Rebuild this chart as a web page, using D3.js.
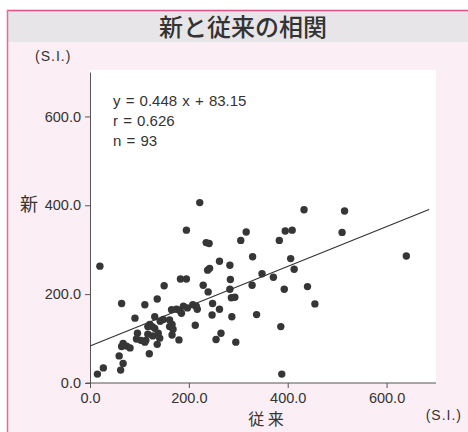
<!DOCTYPE html>
<html>
<head>
<meta charset="utf-8">
<script src="https://cdn.jsdelivr.net/npm/d3@7/dist/d3.min.js"></script>
<style>
  body { margin: 0; background: #fff; }
  text { font-family: "Liberation Sans", Arial, sans-serif; fill: #333; }
  .jp { font-family: "Noto Sans CJK JP", sans-serif; }
</style>
</head>
<body>
<div id="chart"></div>
<script>
// 従来 (x) and 新 (y), one entry per sample, n = 93
const conventional = [
  222, 195, 235, 241, 316, 305, 20, 329, 262, 283,
  238, 242, 183, 195, 348, 371, 284, 150, 229, 328,
  283, 239, 136, 286, 293, 64, 111, 248, 433, 515,
  395, 409, 383, 510, 640, 406, 413, 393, 440, 455,
  337, 386, 388, 208, 215, 189, 181, 175, 165, 185,
  262, 247, 287, 91, 131, 142, 148, 121, 126, 117,
  131, 161, 166, 161, 168, 213, 96, 117, 127, 138,
  166, 265, 255, 94, 103, 113, 180, 295, 136, 67,
  64, 74, 81, 120, 59, 67, 62, 27, 15, 111,
  217, 197, 141
];
const newValues = [
  406, 344, 316, 314, 340, 321, 263, 284, 274, 265,
  254, 258, 234, 234, 246, 238, 233, 219, 220, 220,
  211, 205, 189, 192, 193, 179, 176, 179, 390, 387,
  342, 344, 321, 339, 286, 280, 256, 211, 217, 178,
  154, 127, 20, 176, 173, 173, 164, 166, 165, 157,
  166, 153, 149, 146, 149, 139, 143, 132, 127, 127,
  123, 142, 132, 127, 121, 130, 112, 110, 106, 112,
  108, 112, 98, 99, 96, 96, 97, 92, 87, 89,
  82, 83, 79, 66, 61, 44, 29, 34, 20, 92,
  166, 169, 101
];
const xTicks = [0, 200, 400, 600];
const yTicks = [0, 200, 400, 600];
const slope = 0.448;
const intercept = 83.15;
const fitRange = [0, 686];
const statLines = ["y = 0.448 x + 83.15", "r = 0.626", "n = 93"];
const title = "新と従来の相関";

const width = 468, height = 432;
const margin = { top: 72, right: 32, bottom: 49, left: 90 };

const svg = d3.select("#chart").append("svg")
  .attr("width", width)
  .attr("height", height);

// panel background, title band and pink frame
svg.append("rect").attr("x", 8).attr("y", 11).attr("width", width - 8).attr("height", height - 11)
  .attr("fill", "#fbeff5");
svg.append("rect").attr("x", 8).attr("y", 11).attr("width", width - 8).attr("height", 31)
  .attr("fill", "#e7e5e7");
svg.append("line").attr("x1", 7).attr("x2", width).attr("y1", 10.5).attr("y2", 10.5)
  .attr("stroke", "#e2508a").attr("stroke-width", 1.5);
svg.append("line").attr("x1", 7.5).attr("x2", 7.5).attr("y1", 10).attr("y2", height)
  .attr("stroke", "#e46aa0").attr("stroke-width", 1.5);

const x = d3.scaleLinear().domain([0, 700]).range([margin.left, width - margin.right]);
const y = d3.scaleLinear().domain([0, 700]).range([height - margin.bottom, margin.top]);

// white plot area
svg.append("rect")
  .attr("x", x(0)).attr("y", y(700) - 2)
  .attr("width", x(700) - x(0)).attr("height", y(0) - y(700) + 2)
  .attr("fill", "#fff");

const fmt = d3.format(".1f");

const xAxis = svg.append("g")
  .attr("transform", `translate(0,${y(0)})`)
  .call(d3.axisBottom(x).tickValues(xTicks).tickFormat(fmt).tickSize(5).tickSizeOuter(0));
const yAxis = svg.append("g")
  .attr("transform", `translate(${x(0)},0)`)
  .call(d3.axisLeft(y).tickValues(yTicks).tickFormat(fmt).tickSize(5).tickSizeOuter(0));

[xAxis, yAxis].forEach(g => {
  g.select(".domain").attr("stroke", "#555");
  g.selectAll(".tick line").attr("stroke", "#555");
  g.selectAll(".tick text").attr("fill", "#333").style("font-size", "14.5px")
    .style("font-family", "'Liberation Sans', Arial, sans-serif");
});
xAxis.select(".domain").attr("d", `M${x(0) - 4},0H${x(700)}`);
xAxis.selectAll(".tick text").attr("dy", "0.85em").attr("y", 8);
yAxis.selectAll(".tick text").attr("x", -9);

// regression line
svg.append("line")
  .attr("x1", x(fitRange[0])).attr("y1", y(slope * fitRange[0] + intercept))
  .attr("x2", x(fitRange[1])).attr("y2", y(slope * fitRange[1] + intercept))
  .attr("stroke", "#333").attr("stroke-width", 1.2);

// points
svg.append("g").selectAll("circle")
  .data(conventional.map((d, i) => [d, newValues[i]]))
  .enter().append("circle")
  .attr("cx", d => x(d[0]))
  .attr("cy", d => y(d[1]))
  .attr("r", 3.7)
  .attr("fill", "#363636");

// stats text
svg.append("g").selectAll("text")
  .data(statLines)
  .enter().append("text")
  .attr("x", 113)
  .attr("y", (d, i) => 106 + i * 20)
  .style("font-size", "15px")
  .style("word-spacing", "1px")
  .text(d => d);

// titles and units
svg.append("text").attr("class", "jp")
  .attr("x", 243).attr("y", 36)
  .attr("text-anchor", "middle")
  .style("font-size", "24px")
  .style("font-weight", 500)
  .text(title);

svg.append("text")
  .attr("x", 35).attr("y", 61)
  .style("font-size", "14px")
  .style("letter-spacing", "1px")
  .text("(S.I.)");

svg.append("text")
  .attr("x", 462).attr("y", 420)
  .attr("text-anchor", "end")
  .style("font-size", "14px")
  .style("letter-spacing", "1px")
  .text("(S.I.)");

svg.append("text").attr("class", "jp")
  .attr("x", 266).attr("y", 425)
  .attr("text-anchor", "middle")
  .style("font-size", "16px")
  .text("従 来");

svg.append("text").attr("class", "jp")
  .attr("x", 29).attr("y", y(400) + 6)
  .attr("text-anchor", "middle")
  .style("font-size", "18px")
  .text("新");
</script>
</body>
</html>
